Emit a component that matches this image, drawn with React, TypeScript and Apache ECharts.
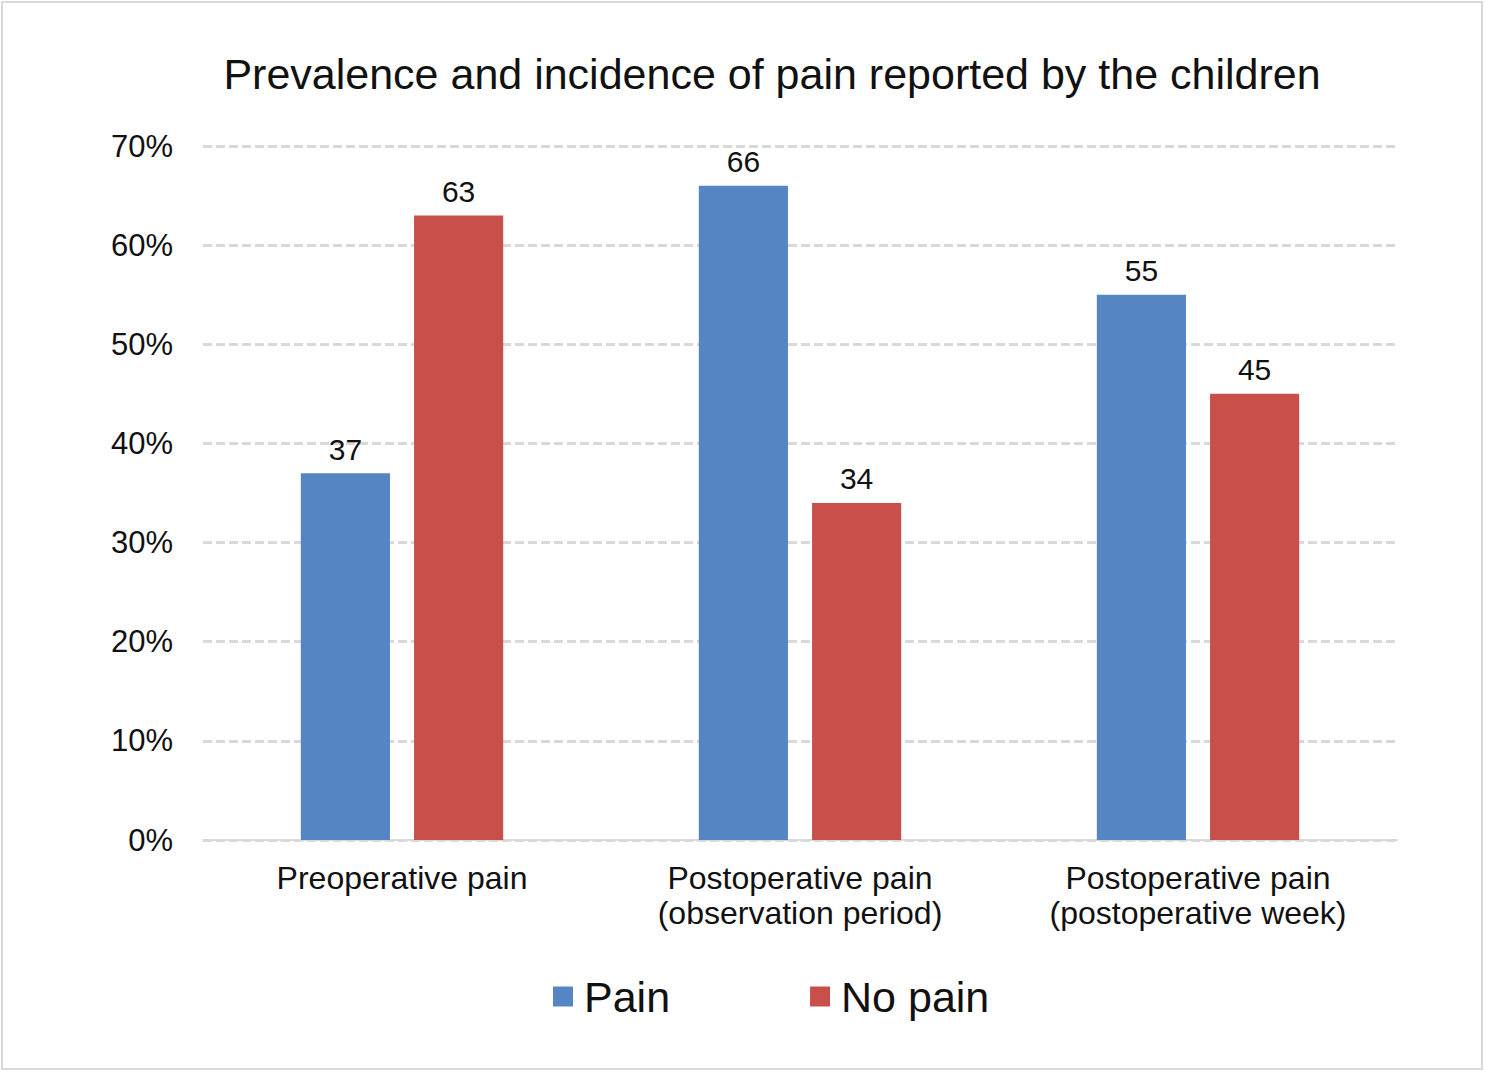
import React, { useEffect, useRef } from "react";
import * as echarts from "echarts";

const categories = [
  "Preoperative pain",
  "Postoperative pain\n(observation period)",
  "Postoperative pain\n(postoperative week)",
];
const painValues = [37, 66, 55];
const noPainValues = [63, 34, 45];
const seriesNames = ["Pain", "No pain"];
const yTicks = { min: 0, max: 70, interval: 10 };

const FONT = "'Liberation Sans', Arial, Helvetica, sans-serif";

export default function App() {
  const ref = useRef<HTMLDivElement>(null);
  useEffect(() => {
    if (!ref.current) return;
    const chart = echarts.init(ref.current, null, { renderer: "svg" });
    chart.setOption({
      animation: false,
      backgroundColor: "#ffffff",
      textStyle: { fontFamily: FONT },
      title: {
        text: "Prevalence and incidence of pain reported by the children",
        left: 767,
        textAlign: "center",
        top: 47,
        textStyle: { fontFamily: FONT, fontSize: 43, fontWeight: "normal", color: "#111" },
      },
      legend: {
        data: seriesNames,
        left: 553,
        top: 975,
        padding: 0,
        itemWidth: 20,
        itemHeight: 20,
        itemGap: 140,
        icon: "rect",
        textStyle: { fontFamily: FONT, fontSize: 43, color: "#111", padding: [0, 0, 0, 6] },
      },
      graphic: [
        {
          type: "rect",
          shape: { x: 2, y: 2, width: 1480, height: 1067 },
          style: { fill: "none", stroke: "#d9d9d9", lineWidth: 2 },
          silent: true,
        },
      ],
      grid: { left: 203, right: 88, top: 146, bottom: 232 },
      xAxis: {
        type: "category",
        data: categories,
        axisLine: { show: true, lineStyle: { color: "#d9d9d9", width: 2 } },
        axisTick: { show: false },
        axisLabel: {
          fontFamily: FONT,
          fontSize: 32,
          color: "#111",
          margin: 20,
          lineHeight: 35,
          interval: 0,
        },
      },
      yAxis: {
        type: "value",
        min: yTicks.min,
        max: yTicks.max,
        interval: yTicks.interval,
        axisLine: { show: false },
        axisTick: { show: false },
        axisLabel: {
          fontFamily: FONT,
          fontSize: 31,
          color: "#111",
          margin: 30,
          formatter: (v: number) => `${v}%`,
        },
        splitLine: {
          show: true,
          lineStyle: { color: "#d9d9d9", width: 3, type: [9, 4] },
        },
      },
      series: [
        {
          name: seriesNames[0],
          type: "bar",
          data: painValues,
          barWidth: "22.4%",
          barGap: "27%",
          itemStyle: { color: "#5586C3" },
          label: {
            show: true,
            position: "top",
            distance: 9,
            fontFamily: FONT,
            fontSize: 30,
            color: "#111",
          },
        },
        {
          name: seriesNames[1],
          type: "bar",
          data: noPainValues,
          barWidth: "22.4%",
          barGap: "27%",
          itemStyle: { color: "#C9504A" },
          label: {
            show: true,
            position: "top",
            distance: 9,
            fontFamily: FONT,
            fontSize: 30,
            color: "#111",
          },
        },
      ],
    });
    return () => chart.dispose();
  }, []);
  return (
    <div
      ref={ref}
      style={{ position: "fixed", left: 0, top: 0, width: 1485, height: 1072 }}
    />
  );
}
